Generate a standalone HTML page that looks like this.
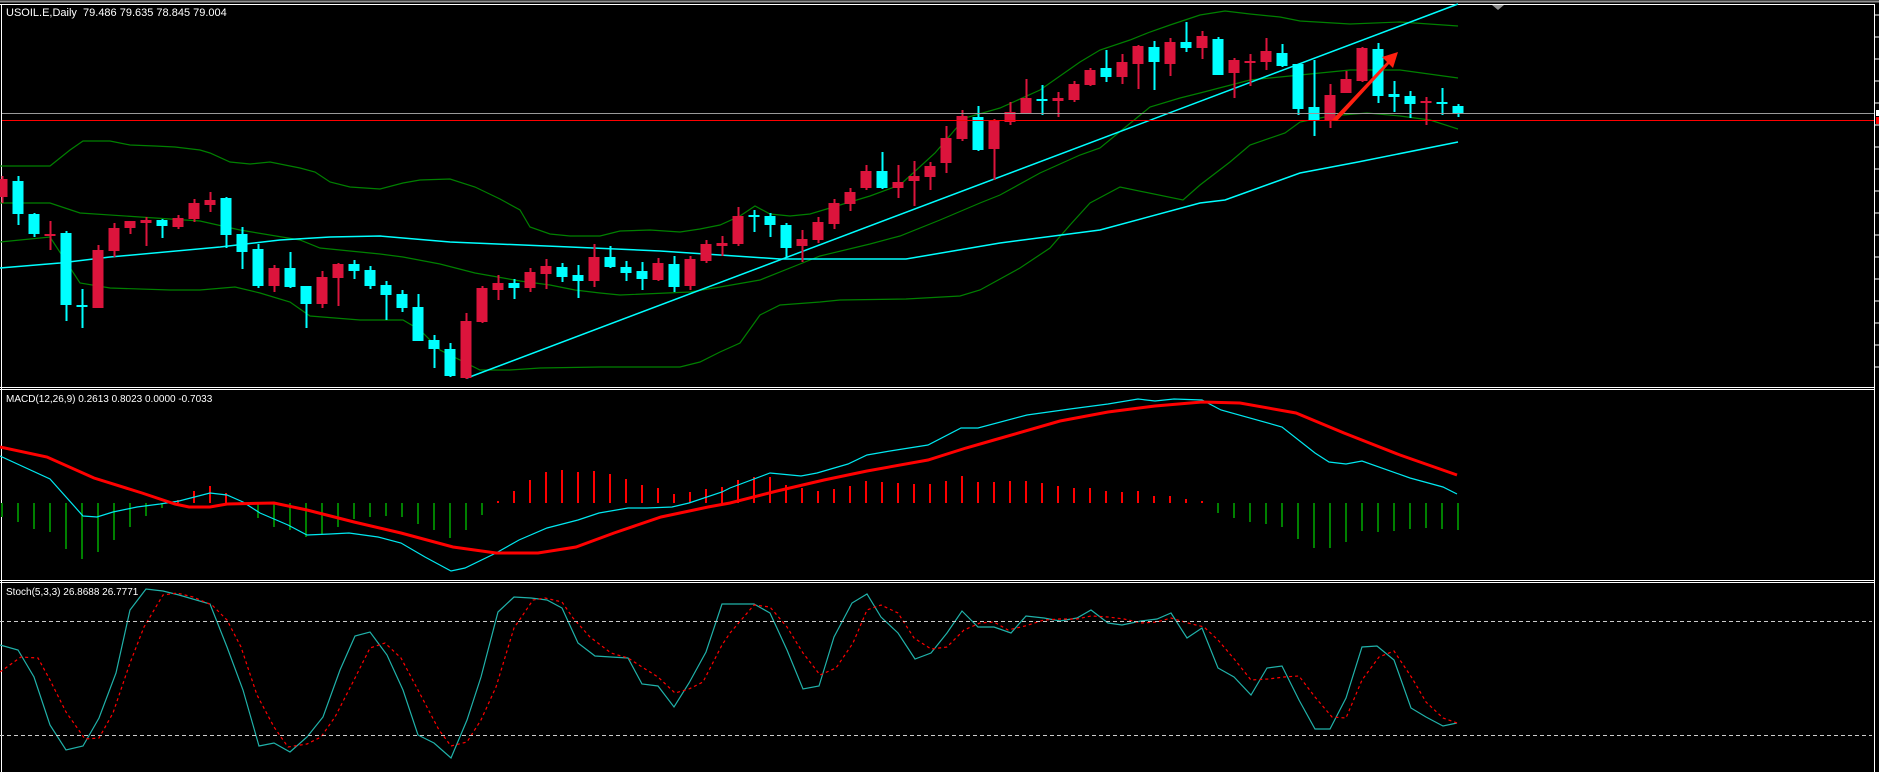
<!DOCTYPE html>
<html><head><meta charset="utf-8"><style>
html,body{margin:0;padding:0;background:#000;}
svg{display:block}
text{font-family:"Liberation Sans",sans-serif;font-size:11px;fill:#fff}
</style></head><body>
<svg id="c" width="1879" height="772" viewBox="0 0 1879 772" xmlns="http://www.w3.org/2000/svg">
<rect width="1879" height="772" fill="#000"/>
<line x1="0" y1="1.5" x2="1879" y2="1.5" stroke="#909090" stroke-width="2"/>
<line x1="0" y1="4.5" x2="1874" y2="4.5" stroke="#fff" stroke-width="1"/>
<line x1="1.5" y1="4" x2="1.5" y2="772" stroke="#fff" stroke-width="1"/>
<line x1="1874.5" y1="4" x2="1874.5" y2="772" stroke="#fff" stroke-width="1"/>
<line x1="0" y1="387.5" x2="1875" y2="387.5" stroke="#fff"/>
<line x1="0" y1="389.5" x2="1875" y2="389.5" stroke="#fff"/>
<line x1="0" y1="580.5" x2="1875" y2="580.5" stroke="#fff"/>
<line x1="0" y1="582.5" x2="1875" y2="582.5" stroke="#fff"/>
<polygon points="1492,5 1504,5 1498,10" fill="#909090"/>
<g id="g"></g>
<line x1="2" y1="113.5" x2="1874" y2="113.5" stroke="#9a9a9a" stroke-width="1"/>
<line x1="2" y1="120.5" x2="1874" y2="120.5" stroke="#ff0000" stroke-width="1"/>
<rect x="1876" y="110" width="3" height="6" fill="#fff"/>
<rect x="1876" y="117" width="3" height="7" fill="#ff0000"/>
<line x1="0" y1="621.5" x2="1872" y2="621.5" stroke="#ccc" stroke-dasharray="4,3"/>
<line x1="0" y1="735.5" x2="1872" y2="735.5" stroke="#ccc" stroke-dasharray="4,3"/>
<text x="6" y="16">USOIL.E,Daily&#160;&#160;79.486 79.635 78.845 79.004</text>
<text x="6" y="402" style="font-size:10px">MACD(12,26,9) 0.2613 0.8023 0.0000 -0.7033</text>
<text x="6" y="595" style="font-size:10px">Stoch(5,3,3) 26.8688 26.7771</text>
<polygon points="1332,120 1387,62 1382,57 1398,52 1393,68 1389,64 1337,121" fill="#ff2010"/>
</svg>
<script>
var g=document.getElementById('g'),h='';
function pl(p,c,w,extra){h+='<polyline fill="none" stroke="'+c+'" stroke-width="'+w+'" '+(extra||'')+' points="'+p+'"/>';}
pl('0,166 50,166 70,150 83,141 110,141 130,145 155,146 175,147 200,150 210,153 230,162 250,164 270,162 300,168 315,172 330,182 350,187 380,189 403,183 420,180 450,179 475,187 500,199 520,210 530,227 550,234 570,236 600,236 620,231 650,230 680,232 700,229 720,225 740,216 755,206 770,214 790,216 810,214 830,208 870,196 900,185 935,153 965,118 1000,108 1040,90 1080,62 1100,50 1130,40 1150,32 1170,25 1200,15 1225,11 1250,14 1280,17 1300,21 1350,24 1400,22 1458,26','#008000',1.2);
pl('0,203 50,203 80,213 200,221 240,230 300,240 320,248 380,254 403,257 440,264 475,273 520,281 550,285 575,290 600,293 620,295 690,292 720,287 760,280 800,264 820,256 870,244 900,236 940,220 980,203 1000,195 1040,173 1080,155 1100,148 1150,107 1180,98 1200,93 1250,80 1290,76 1350,70 1400,70 1458,78','#008000',1.2);
pl('0,242 50,237 80,283 110,288 170,290 200,290 235,287 260,293 290,302 310,316 360,320 403,320 420,330 440,350 480,370 510,370 540,368 600,367 680,367 700,362 720,352 740,343 760,315 780,305 820,302 840,300 906,299 960,296 980,290 1020,268 1050,248 1070,225 1090,203 1120,187 1183,200 1200,185 1230,162 1250,145 1285,133 1300,122 1330,116 1367,113 1400,116 1430,120 1458,129','#008000',1.2);
pl('0,268 60,263 110,257 220,247 280,240 330,237 380,236 450,242 570,247 660,251 720,255 780,259 906,259 1000,243 1100,230 1200,203 1225,200 1300,173 1358,162 1458,142','#00ffff',1.5);
pl('467,378 1458,4','#00ffff',1.5);
var C=[[179,197,176,203,'r'],[181,214,176,225,'c'],[214,234,213,237,'c'],[234,235,221,250,'r'],[233,305,231,321,'c'],[305,307,289,328,'c'],[250,308,245,308,'r'],[228,251,223,257,'r'],[221,228,221,234,'r'],[220,223,217,246,'r'],[220,226,219,238,'c'],[218,227,215,229,'r'],[203,219,199,222,'r'],[200,205,192,212,'r'],[198,235,197,248,'c'],[234,252,227,269,'c'],[249,286,244,288,'c'],[268,286,265,292,'r'],[268,287,252,288,'c'],[286,304,286,328,'c'],[277,304,271,308,'r'],[264,278,263,306,'r'],[264,271,260,279,'c'],[270,286,266,289,'c'],[285,295,281,320,'c'],[294,308,290,312,'c'],[307,341,294,341,'c'],[340,349,335,368,'c'],[349,376,343,377,'c'],[321,378,313,379,'r'],[288,322,286,323,'r'],[283,290,275,300,'r'],[283,288,279,299,'c'],[272,288,268,292,'r'],[266,274,259,289,'r'],[267,277,263,282,'c'],[275,281,265,298,'c'],[257,281,244,287,'r'],[257,267,246,268,'c'],[267,273,261,281,'c'],[271,279,262,290,'c'],[263,280,258,281,'r'],[264,287,256,292,'c'],[259,286,256,290,'r'],[244,261,240,263,'r'],[243,246,236,256,'r'],[216,244,207,246,'r'],[215,216,210,232,'c'],[216,225,213,237,'c'],[225,248,223,258,'c'],[239,246,230,262,'r'],[222,240,217,243,'r'],[203,224,199,229,'r'],[192,204,188,211,'r'],[171,188,165,190,'r'],[171,188,152,189,'c'],[182,188,165,198,'r'],[176,181,161,206,'r'],[166,177,162,190,'r'],[138,163,126,173,'r'],[116,139,110,141,'r'],[117,150,106,151,'c'],[120,149,119,180,'r'],[112,122,102,125,'r'],[98,113,79,113,'r'],[99,101,85,115,'c'],[98,101,92,117,'r'],[84,100,81,102,'r'],[70,85,68,86,'r'],[68,77,50,82,'c'],[62,77,54,84,'r'],[46,64,45,89,'r'],[47,62,41,90,'c'],[42,64,38,76,'r'],[42,48,22,52,'c'],[36,48,31,59,'r'],[39,75,37,75,'c'],[60,73,58,98,'r'],[61,62,54,86,'r'],[51,62,38,70,'r'],[53,66,44,67,'c'],[64,109,64,115,'c'],[107,120,60,136,'c'],[95,120,84,128,'r'],[79,93,71,93,'r'],[48,81,47,82,'r'],[49,96,43,103,'c'],[94,97,81,112,'c'],[96,104,91,118,'c'],[101,102,97,125,'r'],[102,104,88,115,'c'],[106,114,104,117,'c']];
C.forEach(function(d,i){var x=2+16*i,col=d[4]=='r'?'#dc143c':'#00ffff';
h+='<rect x="'+(x-0.5)+'" y="'+d[2]+'" width="2" height="'+(d[3]-d[2])+'" fill="'+col+'"/>';
var t=d[0],b=Math.max(d[1],d[0]+2);h+='<rect x="'+(x-5.5)+'" y="'+t+'" width="11" height="'+(b-t)+'" fill="'+col+'"/>';});
var H=[517,522,529,532,549,559,552,540,527,516,508,500,491,486,493,502,518,527,530,537,534,527,519,517,516,517,524,530,538,530,515,501,491,480,472,470,472,471,474,479,485,488,494,492,489,487,480,477,477,485,488,491,489,486,481,482,483,484,484,481,476,482,482,481,481,483,486,488,488,491,492,491,496,496,499,501,513,518,522,524,527,539,548,548,542,531,532,531,529,528,529,530];
H.forEach(function(v,i){var x=2+16*i;if(Math.abs(v-503)<1)return;h+='<line x1="'+x+'" x2="'+x+'" y1="503" y2="'+v+'" stroke="'+(v>503?'#008000':'#ff0000')+'" stroke-width="2"/>';});
pl('0,456 50,479 83,516 97,517 113,512 137,507 160,504 179,501 210,493 227,495 243,502 260,513 288,525 307,535 330,534 349,533 378,537 401,543 425,557 451,571 465,568 496,553 519,540 547,528 578,520 599,513 628,508 647,508 672,507 689,503 722,492 730,488 770,473 801,476 817,473 848,464 867,455 890,451 928,445 961,428 978,428 1027,415 1070,409 1108,404 1138,399 1155,401 1174,399 1202,400 1221,410 1282,427 1315,453 1329,462 1346,464 1362,461 1410,478 1443,487 1457,494','#00e8f0',1.2);
pl('0,447 47,457 94,478 142,493 175,504 189,507 210,507 227,504 274,503 307,510 354,522 401,533 453,547 496,553 538,553 576,547 614,533 661,517 708,507 730,503 777,491 824,480 867,471 928,460 966,448 994,440 1060,421 1108,412 1155,406 1202,402 1240,403 1296,413 1344,433 1400,455 1457,475','#ff0000',3);
pl('0,645 18,650 34,677 50,725 66,750 83,746 99,718 116,673 130,610 146,589 163,591 179,595 210,604 227,647 243,690 259,746 274,743 290,752 307,737 323,717 340,670 355,636 370,632 387,655 403,690 418,735 434,743 451,758 467,720 481,677 498,612 514,597 531,598 547,600 562,608 578,643 595,656 611,657 628,658 642,684 658,686 674,707 689,683 706,652 722,604 754,604 770,613 787,650 803,689 819,686 834,637 852,603 867,594 881,617 898,633 915,659 931,653 947,633 962,611 978,627 994,627 1011,633 1026,616 1044,618 1060,621 1077,618 1091,610 1108,623 1122,625 1141,621 1157,619 1171,613 1187,638 1202,628 1218,668 1234,677 1251,695 1267,668 1282,666 1299,700 1315,729 1330,729 1346,698 1362,647 1377,646 1394,660 1411,708 1426,717 1443,726 1457,723','#20b2aa',1.2);
pl('0,672 21,657 38,658 50,680 66,712 85,739 99,738 113,713 130,663 144,627 163,595 177,593 193,597 212,605 227,620 241,647 257,695 274,727 288,747 307,744 321,737 335,717 354,680 370,648 385,643 401,658 418,690 439,730 451,746 467,742 481,720 496,687 514,628 533,600 545,598 562,602 573,618 590,637 611,653 628,658 642,667 658,677 675,693 689,689 703,682 722,645 730,633 754,605 770,607 787,627 803,653 820,675 836,668 853,643 867,610 881,605 898,613 914,638 931,649 947,647 964,630 980,623 994,622 1008,630 1025,626 1044,620 1060,619 1077,619 1091,616 1108,617 1124,619 1141,623 1157,622 1171,618 1188,623 1204,627 1218,640 1235,660 1251,680 1268,679 1284,677 1299,676 1315,697 1332,717 1346,718 1362,680 1379,657 1394,651 1412,678 1426,702 1443,718 1457,723','#ff0000',1.2,'stroke-dasharray="3,3"');
for(var y=15;y<385;y+=22)h+='<line x1="1875" x2="1879" y1="'+y+'" y2="'+y+'" stroke="#fff"/>';
g.innerHTML=h;
</script>
</body></html>
